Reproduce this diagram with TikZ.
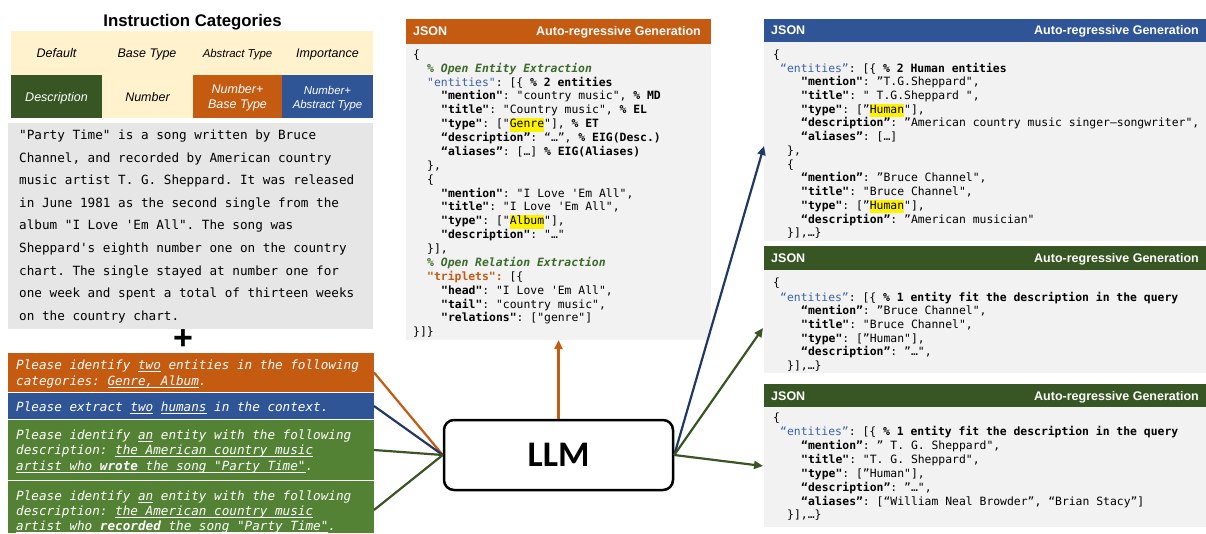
\documentclass[tikz,border=0pt]{standalone}
\usepackage{fontspec}
\setsansfont{Liberation Sans}
\setmonofont{DejaVu Sans Mono}
\newfontfamily\llmfont{Carlito}
\usetikzlibrary{arrows.meta,calc}
\definecolor{corange}{HTML}{C55A11}
\definecolor{cblue}{HTML}{2F5597}
\definecolor{cdgreen}{HTML}{375623}
\definecolor{cgreen}{HTML}{548235}
\definecolor{ccream}{HTML}{FFF2CC}
\definecolor{cpara}{HTML}{E7E6E6}
\definecolor{cjson}{HTML}{F2F2F2}
\definecolor{cnavy}{HTML}{203864}
\definecolor{centc}{HTML}{3A62A8}
\definecolor{ccmt}{HTML}{3B6B2A}
\newcommand\K[1]{\textbf{#1}}
\newcommand\E[1]{\textcolor{centc}{#1}}
\newcommand\CM[1]{\textcolor{ccmt}{\bfseries\itshape #1}}
\newcommand\HL[1]{{\setlength{\fboxsep}{0pt}\colorbox{yellow}{\strut#1}}}
\newcommand\UL[1]{\setbox0\hbox{#1}\rlap{\rule[-2.4pt]{\wd0}{0.6pt}}\box0\relax}
\newcounter{cl}
\newcommand\CL[3]{\stepcounter{cl}\node[code] (cl\arabic{cl}) at (#1,#2) {#3};}
\newcommand\PL[3]{\stepcounter{cl}\node[para] (pl\arabic{cl}) at (#1,#2) {#3};}
\newcommand\QL[3]{\stepcounter{cl}\node[prm] (ql\arabic{cl}) at (#1,#2) {#3};}
\begin{document}
\begin{tikzpicture}[x=1pt,y=-1pt,
  box/.style={anchor=north west, inner sep=0pt, outer sep=0pt, draw=none},
  code/.style={anchor=base west, inner sep=0pt, font=\ttfamily\fontsize{11.4}{13.8}\selectfont},
  para/.style={anchor=base west, inner sep=0pt, font=\ttfamily\fontsize{12.65}{15}\selectfont},
  prm/.style={anchor=base west, inner sep=0pt, text=white, font=\ttfamily\itshape\fontsize{12.65}{15}\selectfont},
  cat/.style={anchor=base, inner sep=0pt, font=\sffamily\itshape\fontsize{12.5}{15}\selectfont},
  cats/.style={cat, font=\sffamily\itshape\fontsize{11.4}{14}\selectfont},
  hdr/.style={inner sep=0pt, text=white, font=\sffamily\bfseries\fontsize{12.5}{15}\selectfont},
  conn/.style={line width=2.2pt},
  arr/.style={conn, -{Triangle[length=9pt,width=8pt]}}]
\useasboundingbox (0,0) rectangle (1206,533);

% ---------- Instruction categories ----------
\node[anchor=base, inner sep=0pt, font=\sffamily\bfseries\fontsize{16.8}{20}\selectfont] (title) at (192.5,26) {Instruction Categories};
\node[box, fill=ccream, minimum width=362, minimum height=44] (trow) at (11,31) {};
\node[box, fill=cdgreen, minimum width=91, minimum height=43] (c1) at (11,75) {};
\node[box, fill=ccream, minimum width=91, minimum height=43] (c2) at (102,75) {};
\node[box, fill=corange, minimum width=89, minimum height=43] (c3) at (193,75) {};
\node[box, fill=cblue, minimum width=91, minimum height=43] (c4) at (282,75) {};
\node[cat] (t1) at (56.5,57.8) {Default};
\node[cat] (t2) at (147,57.8) {Base Type};
\node[cats] (t3) at (237.5,57.5) {Abstract Type};
\node[cat] (t4) at (327.5,57.8) {Importance};
\node[cat, text=white] (b1) at (56.5,101.2) {Description};
\node[cat] (b2) at (147.5,101.2) {Number};
\node[cat, text=white] (b3a) at (237.5,93.8) {Number+};
\node[cat, text=white] (b3b) at (237.5,108.5) {Base Type};
\node[cats, text=white] (b4a) at (327.5,94) {Number+};
\node[cats, text=white] (b4b) at (327.5,108.3) {Abstract Type};

% ---------- Context paragraph ----------
\node[box, fill=cpara, minimum width=365, minimum height=206] (para) at (8,123) {};
\PL{19}{139.4}{"Party Time" is a song written by Bruce}
\PL{19}{162.0}{Channel, and recorded by American country}
\PL{19}{184.6}{music artist T. G. Sheppard. It was released}
\PL{19}{207.2}{in June 1981 as the second single from the}
\PL{19}{229.8}{album "I Love 'Em All". The song was}
\PL{19}{252.4}{Sheppard's eighth number one on the country}
\PL{19}{275.0}{chart. The single stayed at number one for}
\PL{19}{297.6}{one week and spent a total of thirteen weeks}
\PL{19}{320.2}{on the country chart.}

\node[inner sep=0pt, font=\sffamily\bfseries\fontsize{34}{34}\selectfont] (plus) at (183,340) {+};

% ---------- Prompts ----------
\node[box, fill=corange, minimum width=366, minimum height=39] (p1) at (8,353) {};
\node[box, fill=cblue, minimum width=366, minimum height=26] (p2) at (8,393) {};
\node[box, fill=cgreen, minimum width=366, minimum height=60] (p3) at (8,420) {};
\node[box, fill=cgreen, minimum width=366, minimum height=52] (p4) at (8,481) {};
\QL{16}{369.4}{Please identify \UL{two} entities in the following}
\QL{16}{385.4}{categories: \UL{Genre, Album}.}
\QL{16}{411.0}{Please extract \UL{two} \UL{humans} in the context.}
\QL{16}{439.4}{Please identify \UL{an} entity with the following}
\QL{16}{454.6}{description: \UL{the American country music}}
\QL{16}{470.2}{\UL{artist who \textbf{wrote} the song "Party Time"}.}
\QL{16}{500.4}{Please identify \UL{an} entity with the following}
\QL{16}{515.6}{description: \UL{the American country music}}
\QL{16}{530.4}{\UL{artist who \textbf{recorded} the song "Party Time"}.}

% ---------- LLM ----------
\node[draw=black, fill=white, line width=2.5pt, rounded corners=10pt, minimum width=229, minimum height=70, inner sep=0pt,
  font=\llmfont\bfseries\fontsize{36}{40}\selectfont] (llm) at (558.5,455) {LLM};

% ---------- Middle JSON ----------
\node[box, fill=corange, minimum width=305, minimum height=25] (mjh) at (406,19) {};
\node[box, fill=cjson, minimum width=305, minimum height=296] (mjb) at (406,44) {};
\node[hdr, anchor=base west] (mjh1) at (413,35.5) {JSON};
\node[hdr, anchor=base east] (mjh2) at (701,35.5) {Auto-regressive Generation};
\CL{413}{58.3}{\{}
\CL{427}{72.2}{\CM{\% Open Entity Extraction}}
\CL{427}{86.0}{\E{"entities"}: [\{ \K{\% 2 entities}}
\CL{441}{99.9}{\K{"mention"}: "country music", \K{\% MD}}
\CL{441}{113.8}{\K{"title"}: "Country music", \K{\% EL}}
\CL{441}{127.7}{\K{"type"}: ["\HL{Genre}"], \K{\% ET}}
\CL{441}{141.5}{\K{“description”}: “…”, \K{\% EIG(Desc.)}}
\CL{441}{155.4}{\K{“aliases”}: […] \K{\% EIG(Aliases)}}
\CL{427}{169.3}{\},}
\CL{427}{183.1}{\{}
\CL{441}{197.0}{\K{"mention"}: "I Love 'Em All",}
\CL{441}{210.9}{\K{"title"}: "I Love 'Em All",}
\CL{441}{224.7}{\K{"type"}: ["\HL{Album}"],}
\CL{441}{238.6}{\K{"description"}: "…"}
\CL{427}{252.5}{\}],}
\CL{427}{266.4}{\CM{\% Open Relation Extraction}}
\CL{427}{280.2}{\textcolor{corange}{\bfseries"triplets":} [\{}
\CL{441}{294.1}{\K{"head"}: "I Love 'Em All",}
\CL{441}{308.0}{\K{"tail"}: "country music",}
\CL{441}{321.8}{\K{"relations"}: ["genre"]}
\CL{413}{335.7}{\}]\}}

% ---------- Right top JSON ----------
\node[box, fill=cblue, minimum width=442, minimum height=23] (rah) at (764,19) {};
\node[box, fill=cjson, minimum width=442, minimum height=199] (rab) at (764,42) {};
\node[hdr, anchor=base west] (rah1) at (771,34.8) {JSON};
\node[hdr, anchor=base east] (rah2) at (1199,34.8) {Auto-regressive Generation};
\CL{773}{58.3}{\{}
\CL{780}{72.0}{\E{“entities”}: [\{ \K{\% 2 Human entities}}
\CL{801}{85.7}{\K{"mention"}: ”T.G.Sheppard",}
\CL{801}{99.5}{\K{"title"}: " T.G.Sheppard ",}
\CL{801}{113.2}{\K{"type"}: [”\HL{Human}"],}
\CL{801}{126.9}{\K{“description”}: ”American country music singer–songwriter",}
\CL{801}{140.6}{\K{“aliases”}: […]}
\CL{787}{154.4}{\},}
\CL{787}{168.1}{\{}
\CL{801}{181.8}{\K{“mention”}: ”Bruce Channel",}
\CL{801}{195.5}{\K{"title"}: "Bruce Channel",}
\CL{801}{209.2}{\K{"type"}: [”\HL{Human}"],}
\CL{801}{223.0}{\K{“description”}: ”American musician"}
\CL{787}{236.7}{\}],…\}}

% ---------- Right middle JSON ----------
\node[box, fill=cdgreen, minimum width=442, minimum height=24] (rbh) at (764,246) {};
\node[box, fill=cjson, minimum width=442, minimum height=103] (rbb) at (764,270) {};
\node[hdr, anchor=base west] (rbh1) at (771,262.8) {JSON};
\node[hdr, anchor=base east] (rbh2) at (1199,262.8) {Auto-regressive Generation};
\CL{773}{286.0}{\{}
\CL{780}{301.3}{\E{“entities”}: [\{ \K{\% 1 entity fit the description in the query}}
\CL{801}{314.9}{\K{“mention”}: ”Bruce Channel",}
\CL{801}{328.5}{\K{"title"}: "Bruce Channel",}
\CL{801}{342.1}{\K{"type"}: [”Human"],}
\CL{801}{355.7}{\K{“description”}: ”…",}
\CL{787}{369.3}{\}],…\}}

% ---------- Right bottom JSON ----------
\node[box, fill=cdgreen, minimum width=442, minimum height=23] (rch) at (764,384) {};
\node[box, fill=cjson, minimum width=442, minimum height=120] (rcb) at (764,407) {};
\node[hdr, anchor=base west] (rch1) at (771,400.5) {JSON};
\node[hdr, anchor=base east] (rch2) at (1199,400.5) {Auto-regressive Generation};
\CL{773}{421.3}{\{}
\CL{780}{435.2}{\E{“entities”}: [\{ \K{\% 1 entity fit the description in the query}}
\CL{801}{449.2}{\K{“mention”}: ” T. G. Sheppard",}
\CL{801}{463.1}{\K{"title"}: "T. G. Sheppard",}
\CL{801}{477.1}{\K{"type"}: [”Human"],}
\CL{801}{491.0}{\K{“description”}: ”…",}
\CL{801}{505.0}{\K{“aliases”}: [“William Neal Browder”, “Brian Stacy”]}
\CL{787}{518.9}{\}],…\}}

% ---------- Connectors ----------
\coordinate (e1) at (764,146);
\coordinate (e2) at (763,328);
\coordinate (e3) at (763,466);
\draw[conn, corange] (p1.east) -- (llm.west);
\draw[conn, cnavy] (p2.east) -- (llm.west);
\draw[conn, cdgreen] (p3.east) -- (llm.west);
\draw[conn, cdgreen] ([yshift=-3pt]p4.east) -- (llm.west);
\draw[arr, corange] (llm.north) -- (mjb.south);
\draw[arr, cnavy] (llm.east) -- (e1);
\draw[arr, cdgreen] (llm.east) -- (e2);
\draw[arr, cdgreen] (llm.east) -- (e3);
\end{tikzpicture}
\end{document}
